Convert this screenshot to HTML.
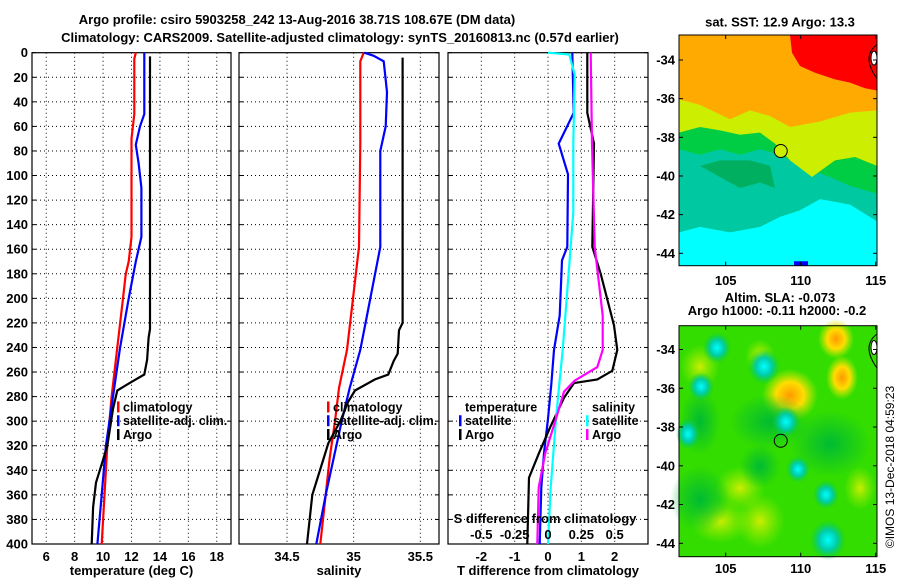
<!DOCTYPE html>
<html><head><meta charset="utf-8"><style>
html,body{margin:0;padding:0;background:#fff}
svg{display:block;font-family:"Liberation Sans",sans-serif;font-weight:bold}
</style></head><body>
<svg id="c" width="900" height="580" viewBox="0 0 900 580">
<defs>
<radialGradient id="gc" cx="50%" cy="50%" r="50%"><stop offset="0" stop-color="#00ffff"/><stop offset="0.5" stop-color="#00ccaa"/><stop offset="1" stop-color="#00cc44" stop-opacity="0"/></radialGradient>
<radialGradient id="go" cx="50%" cy="50%" r="50%"><stop offset="0" stop-color="#ff9900"/><stop offset="0.5" stop-color="#ffdd00"/><stop offset="1" stop-color="#ccee00" stop-opacity="0"/></radialGradient>
<radialGradient id="gy" cx="50%" cy="50%" r="50%"><stop offset="0" stop-color="#ccee00"/><stop offset="1" stop-color="#99ee00" stop-opacity="0"/></radialGradient>
<radialGradient id="gd" cx="50%" cy="50%" r="50%"><stop offset="0" stop-color="#00bb33"/><stop offset="1" stop-color="#00bb33" stop-opacity="0"/></radialGradient>
</defs>
<text x="297" y="24" font-size="13" text-anchor="middle">Argo profile: csiro 5903258_242 13-Aug-2016 38.71S 108.67E (DM data)</text>
<text x="340" y="42" font-size="13" text-anchor="middle">Climatology: CARS2009. Satellite-adjusted climatology: synTS_20160813.nc (0.57d earlier)</text>
<g id="maps"></g>
<g id="plots"></g>
<text transform="translate(894,467) rotate(-90)" font-size="12" font-weight="normal" text-anchor="middle">©IMOS 13-Dec-2018 04:59:23</text>
</svg>
<script>
// ---- data ----
const depthTicks=[0,20,40,60,80,100,120,140,160,180,200,220,240,260,280,300,320,340,360,380,400];
const tempTicks=[6,8,10,12,14,16,18];
const salTicks=[34.5,35,35.5];
const tdiffTicks=[-2,-1,0,1,2];
const sdiffTicks=[-0.5,-0.25,0,0.25,0.5];
const tempClimDepth=[0,5,20,50,70,100,150,170,180,200,240,280,320,360,400];
const tempClim=[12.3,12.2,12.2,12.2,12.0,12.0,12.0,11.8,11.6,11.4,11.0,10.6,10.3,10.1,9.9];
const tempSatDepth=[0,50,60,75,90,110,150,170,200,240,280,320,360,400];
const tempSat=[12.9,12.9,12.6,12.3,12.5,12.7,12.7,12.3,11.8,11.2,10.7,10.2,9.9,9.6];
const tempArgoDepth=[3,225,232,250,262,268,275,290,320,335,350,370,400];
const tempArgo=[13.3,13.3,13.2,13.1,12.9,12.0,11.0,10.7,10.3,9.9,9.5,9.3,9.2];
const salClimDepth=[0,7,74,158,186,214,242,273,300,330,360,400];
const salClim=[35.075,35.05,35.05,35.04,35.01,34.98,34.95,34.89,34.86,34.82,34.79,34.75];
const salSatDepth=[0,2.5,7,32,60,80,158,169,214,242,273,300,330,360,400];
const salSat=[35.08,35.15,35.225,35.25,35.24,35.2,35.2,35.18,35.1,35.05,34.97,34.91,34.85,34.79,34.72];
const salArgoDepth=[4,220,226,245,251,262,266,275,284,300,318,332,360,400];
const salArgo=[35.367,35.367,35.34,35.33,35.3,35.26,35.16,35.01,34.96,34.9,34.81,34.77,34.69,34.65];
const tdSatDepth=[0,49,74,99,158,169,214,242,270,298,326,354,400];
const tdSat=[0.73,0.77,0.32,0.6,0.58,0.42,0.35,0.18,0.1,0.0,-0.12,-0.2,-0.25];
const tdArgoDepth=[0,49,74,158,180,222,242,259,266,269,281,304,326,346,400];
const tdArgo=[1.18,1.18,1.38,1.33,1.58,1.98,2.08,1.93,1.48,0.78,0.48,0.08,-0.27,-0.57,-0.62];
const sdSatDepth=[0,1.5,18,74,130,186,242,270,298,354,400];
const sdSat=[0.0,0.16,0.2,0.19,0.19,0.15,0.11,0.085,0.06,0.02,0.0];
const sdArgoDepth=[0,74,158,214,242,256,267,276,298,326,354,400];
const sdArgo=[0.32,0.33,0.35,0.41,0.41,0.37,0.2,0.12,0.06,-0.02,-0.07,-0.08];
const lonTicks=[105,110,115];
const latTicks=[-34,-36,-38,-40,-42,-44];

const NS='http://www.w3.org/2000/svg';
function mk(tag,attrs,parent){const e=document.createElementNS(NS,tag);for(const k in attrs)e.setAttribute(k,attrs[k]);parent.appendChild(e);return e;}
const plots=document.getElementById('plots');
const Y0=52.7,Y1=544;
const yS=d=>Y0+(d/400)*(Y1-Y0);

function panel(name,x0,x1,v0,v1,ticks,labelFmt,xlabel,yLabels){
  const g=mk('g',{},plots);
  
  
  const xS=v=>x0+(v-v0)/(v1-v0)*(x1-x0);
  depthTicks.forEach(d=>{
    if(d>0&&d<400){const l=mk('line',{x1:x0,x2:x1,y1:yS(d),y2:yS(d),stroke:'#000','stroke-width':1,'stroke-dasharray':'1,3'},g);
    
    }
    mk('line',{x1:x0,x2:x0+4,y1:yS(d),y2:yS(d),stroke:'#000'},g);
    mk('line',{x1:x1,x2:x1-4,y1:yS(d),y2:yS(d),stroke:'#000'},g);
    if(yLabels){const t=mk('text',{x:x0-4,y:yS(d)+4.5,'font-size':13,'text-anchor':'end'},g);t.textContent=d;
    
    }
  });
  ticks.forEach(v=>{
    const l=mk('line',{x1:xS(v),x2:xS(v),y1:Y0,y2:Y1,stroke:'#000','stroke-dasharray':'1,3'},g);
    
    
    if(labelFmt){const t=mk('text',{x:xS(v),y:Y1+17,'font-size':13,'text-anchor':'middle'},g);t.textContent=labelFmt(v);
    
    }
  });
  const r=mk('rect',{x:x0,y:Y0,width:x1-x0,height:Y1-Y0,fill:'none',stroke:'#000','stroke-width':1.2},g);
  
  
  const xl=mk('text',{x:(x0+x1)/2,y:Y1+31,'font-size':13,'text-anchor':'middle'},g);xl.textContent=xlabel;
  
  
  return {g,xS};
}
function line(p,depths,vals,color,name){
  const pts=depths.map((d,i)=>p.xS(vals[i]).toFixed(1)+','+yS(d).toFixed(1)).join(' ');
  const l=mk('polyline',{points:pts,fill:'none',stroke:color,'stroke-width':2.2},p.g);
  
  
}
function legend(g,x,y,items,title){
  let yy=y;
  if(title){const t=mk('text',{x:x+6,y:yy,'font-size':12.5},g);t.textContent=title;
  
  yy+=13.8;}
  items.forEach(([c,lab])=>{
    mk('rect',{x:x,y:yy-10,width:2.5,height:11,fill:c},g);
    const t=mk('text',{x:x+6,y:yy,'font-size':12.5},g);t.textContent=lab;
    
    
    yy+=13.8;
  });
}
const LY=yS(288)+5;
const p1=panel('temperature-panel',32,231,5,19,tempTicks,v=>v,'temperature (deg C)',true);
line(p1,tempClimDepth,tempClim,'#ff0000','temp-climatology-line');
line(p1,tempSatDepth,tempSat,'#0000ff','temp-satellite-line');
line(p1,tempArgoDepth,tempArgo,'#000','temp-argo-line');
legend(p1.g,117,LY,[['#ff0000','climatology'],['#0000ff','satellite-adj. clim.'],['#000','Argo']]);

const p2=panel('salinity-panel',239,439,34.14,35.64,salTicks,v=>v,'salinity',false);
line(p2,salClimDepth,salClim,'#ff0000','sal-climatology-line');
line(p2,salSatDepth,salSat,'#0000ff','sal-satellite-line');
line(p2,salArgoDepth,salArgo,'#000','sal-argo-line');
legend(p2.g,327,LY,[['#ff0000','climatology'],['#0000ff','satellite-adj. clim.'],['#000','Argo']]);

const p3=panel('difference-panel',448,648,-3,3,tdiffTicks,v=>v,'T difference from climatology',false);
const p3s={g:p3.g,xS:v=>448+(v+0.75)/1.5*200};
line(p3,tdSatDepth,tdSat,'#0000ff','tdiff-satellite-line');
line(p3,tdArgoDepth,tdArgo,'#000','tdiff-argo-line');
line(p3s,sdSatDepth,sdSat,'#00ffff','sdiff-satellite-line');
line(p3s,sdArgoDepth,sdArgo,'#ff00ff','sdiff-argo-line');
legend(p3.g,459,LY,[['#0000ff','satellite'],['#000','Argo']],'temperature');
legend(p3.g,586,LY,[['#00ffff','satellite'],['#ff00ff','Argo']],'salinity');
sdiffTicks.forEach(v=>{const t=mk('text',{x:p3s.xS(v),y:yS(392)+5,'font-size':13,'text-anchor':'middle'},p3.g);t.textContent=v;

});
{const t=mk('text',{x:545,y:yS(379)+5,'font-size':13,'text-anchor':'middle'},p3.g);t.textContent='S difference from climatology';

}

// ---- maps ----
const maps=document.getElementById('maps');
function mapFrame(name,top,bot,lat34,lat44,title1,title2,tY1,tY2,lonY){
  const g=mk('g',{},maps);
  
  
  const xL=v=>725.7+(v-105)*15;
  const yL=v=>lat34+(-34-v)/10*(lat44-lat34);
  return {g,xL,yL,top,bot,title1,title2,tY1,tY2,lonY};
}
function finishMap(m){
  const g=m.g;
  mk('path',{d:`M877,${m.yL(-33.2)} q-16,12 0,34`,fill:'none',stroke:'#000'},g);
  mk('ellipse',{cx:874,cy:m.yL(-33.9),rx:3,ry:7,fill:'#fff',stroke:'#000'},g);
  mk('rect',{x:679,y:m.top,width:198,height:m.bot-m.top,fill:'none',stroke:'#000'},g);
  lonTicks.forEach(v=>{mk('line',{x1:m.xL(v),x2:m.xL(v),y1:m.bot,y2:m.bot-4,stroke:'#000'},g);
    mk('line',{x1:m.xL(v),x2:m.xL(v),y1:m.top,y2:m.top+4,stroke:'#000'},g);
    const t=mk('text',{x:m.xL(v),y:m.lonY+5,'font-size':13,'text-anchor':'middle'},g);t.textContent=v;
    
    });
  latTicks.forEach(v=>{mk('line',{x1:679,x2:683,y1:m.yL(v),y2:m.yL(v),stroke:'#000'},g);
    mk('line',{x1:877,x2:873,y1:m.yL(v),y2:m.yL(v),stroke:'#000'},g);
    const t=mk('text',{x:675,y:m.yL(v)+4.5,'font-size':13,'text-anchor':'end'},g);t.textContent=v;
    
    });
  const t1=mk('text',{x:780,y:m.tY1+4.5,'font-size':13,'text-anchor':'middle'},g);t1.textContent=m.title1;
  
  
  if(m.title2){const t2=mk('text',{x:777,y:m.tY2+4.5,'font-size':13,'text-anchor':'middle'},g);t2.textContent=m.title2;
  
  }
}
const argoLon=108.67, argoLat=-38.71;
// SST map
const m1=mapFrame('sst-map',35,265.7,60,253.3,'sat. SST: 12.9 Argo: 13.3',null,22,0,280);
{const g0=m1.g;
 const g=mk('g',{transform:'translate(0,35) scale(1,1.109) translate(0,-32)'},g0);
 mk('rect',{x:679,y:32,width:198,height:208,fill:'#00ffff'},g);
 mk('path',{d:'M679,32H877V200L850,185L820,180L800,190L780,196L760,205L730,210L700,205L679,210Z',fill:'#00c8a0'},g);
 mk('path',{d:'M679,32H877V175L850,168L830,160L800,150L780,140L760,135L740,140L720,135L700,140L679,135Z',fill:'#00cc44'},g);
 mk('path',{d:'M679,32H877V150L855,142L835,145L812,160L790,145L775,130L760,120L740,122L720,118L700,115L679,120Z',fill:'#ccee00'},g);
 mk('path',{d:'M679,32H877V100L850,102L820,110L790,115L770,105L750,100L730,108L700,95L679,90Z',fill:'#ffaa00'},g);
 mk('path',{d:'M790,32H877V82L865,80L850,75L835,72L815,66L800,60L792,48Z',fill:'#ff0000'},g);
 mk('path',{d:'M700,150L720,160L740,170L760,165L775,170L770,150L750,145L720,145Z',fill:'#00b060'},g);
 mk('rect',{x:794,y:236,width:14,height:4,fill:'#0000ff'},g);
 const c=mk('circle',{cx:m1.xL(argoLon),cy:m1.yL(argoLat),r:6.5,fill:'#ccee00',stroke:'#000'},g0);
 
 
 finishMap(m1);}
// SLA map
const m2=mapFrame('sla-map',325.7,556.7,349.5,543.3,'Altim. SLA: -0.073','Argo h1000: -0.11 h2000: -0.2',297.7,310.7,568);
{const g0=m2.g;
 const g=mk('g',{transform:'translate(0,325.7) scale(1,1.105) translate(0,-293)'},g0);
 mk('rect',{x:679,y:293,width:198,height:209,fill:'#33dd00'},g);
 [[720,470,30,20,'gy'],[760,470,25,25,'gy'],[790,356,28,24,'go'],[836,305,18,18,'go'],[842,340,16,20,'go'],[700,330,20,20,'gy'],[760,320,15,15,'gy'],[860,440,16,20,'gy'],[740,440,25,20,'gy'],
  [700,450,30,30,'gd'],[700,380,20,30,'gd'],[770,380,40,25,'gd'],[830,400,40,30,'gd'],[760,420,20,20,'gd'],
  [717,313,14,14,'gc'],[764,330,16,16,'gc'],[701,348,13,13,'gc'],[688,391,12,14,'gc'],[786,380,14,14,'gc'],[798,423,12,12,'gc'],[828,487,18,18,'gc'],[826,446,13,13,'gc']
 ].forEach(([x,y,rx,ry,f])=>mk('ellipse',{cx:x,cy:y,rx:rx,ry:ry,fill:`url(#${f})`},g));
 const c=mk('circle',{cx:m2.xL(argoLon),cy:m2.yL(argoLat),r:6.5,fill:'none',stroke:'#000'},g0);
 
 
 finishMap(m2);}
</script>
</body></html>
